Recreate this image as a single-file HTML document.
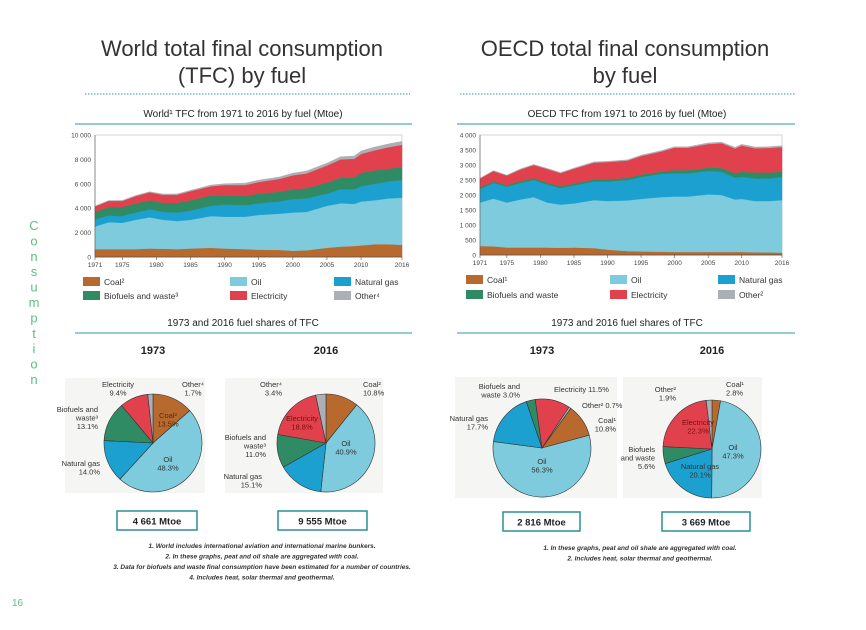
<!DOCTYPE html>
<html><head><meta charset="utf-8">
<style>
body{margin:0;background:#fff;}
#root{position:relative;width:866px;height:630px;overflow:hidden;font-family:"Liberation Sans",sans-serif;}
svg{position:absolute;left:0;top:0;}
</style></head>
<body>
<div id="root">
<svg id="svg" width="866" height="630" viewBox="0 0 866 630" font-family="Liberation Sans, sans-serif"></svg>
</div>
<script>
// ---------- data ----------
const years = [1971,1973,1975,1977,1979,1981,1983,1985,1988,1990,1993,1995,1998,2000,2002,2005,2007,2009,2010,2012,2014,2016];
const worldCoal  = [650,650,650,650,700,680,650,700,750,700,650,600,580,520,550,750,850,900,950,1050,1050,1000];
const worldOil   = [1850,2200,2150,2400,2550,2370,2300,2350,2600,2600,2650,2850,2970,3130,3150,3450,3550,3450,3600,3600,3750,3850];
const worldGas   = [600,550,550,600,650,650,700,750,850,1000,950,950,1000,1100,1100,1000,1150,1200,1250,1350,1400,1450];
const worldBio   = [600,700,750,750,750,750,800,850,850,750,750,800,800,800,850,900,950,950,1100,1100,1050,1050];
const worldElec  = [450,500,500,600,650,650,650,750,750,850,900,950,1050,1150,1200,1400,1500,1550,1550,1650,1750,1850];
const worldOther = [30,30,40,50,50,60,70,70,100,110,160,150,160,180,200,200,220,230,250,270,270,280];
const oecdCoal  = [300,290,250,250,250,250,240,250,230,180,130,120,110,100,100,100,100,100,100,90,85,80];
const oecdOil   = [1450,1590,1500,1600,1680,1500,1440,1470,1600,1620,1690,1750,1820,1850,1850,1920,1900,1750,1770,1710,1715,1750];
const oecdGas   = [450,520,530,550,570,600,550,600,620,650,680,730,770,770,770,780,770,730,730,750,750,770];
const oecdBio   = [60,50,50,60,60,60,60,60,70,70,70,80,80,110,110,110,130,150,180,200,200,180];
const oecdElec  = [290,350,320,390,440,460,440,500,560,580,580,620,670,750,750,790,830,820,870,810,820,820];
const oecdOther = [15,15,15,20,20,20,20,20,25,25,25,30,30,30,30,35,35,40,40,40,40,45];
const xTickLabels = ["1971","1975","1980","1985","1990","1995","2000","2005","2010","2016"];
const worldYTicks = [0,2000,4000,6000,8000,10000];
const worldYTickLabels = ["0","2 000","4 000","6 000","8 000","10 000"];
const oecdYTicks = [0,500,1000,1500,2000,2500,3000,3500,4000];
const oecdYTickLabels = ["0","500","1 000","1 500","2 000","2 500","3 000","3 500","4 000"];
const pieWorld1973 = [13.5,48.3,14.0,13.1,9.4,1.7];
const pieWorld2016 = [10.8,40.9,15.1,11.0,18.8,3.4];
const pieOecd1973  = [10.8,56.3,17.7,3.0,11.5,0.7];
const pieOecd2016  = [2.8,47.3,20.1,5.6,22.3,1.9];
const fuelNames = ["coal","oil","natural-gas","biofuels","electricity","other"];
const colors = ["#b8692e","#7dcbdd","#1ca0d0","#2e8b64","#e1414c","#aab0b6"];

const S = document.getElementById('svg');
const NS = "http://www.w3.org/2000/svg";
function el(tag, attrs, parent){const e=document.createElementNS(NS,tag);for(const k in attrs)e.setAttribute(k,attrs[k]);(parent||S).appendChild(e);return e;}
function txt(x,y,s,size,opts,parent){const t=el('text',Object.assign({x:x,y:y,'font-size':size,fill:'#222'},opts||{}),parent);t.textContent=s;return t;}

// ---------- static text ----------
function titleBlock(cx,lines,name){
  lines.forEach((l,i)=>{const t=txt(cx,56+i*27,l,22,{'text-anchor':'middle',fill:'#333'});});
}
titleBlock(242,["World total final consumption","(TFC) by fuel"],'world-title');
titleBlock(625,["OECD total final consumption","by fuel"],'oecd-title');
let dl=el('line',{x1:85,y1:94,x2:410,y2:94,stroke:'#2a9aa0','stroke-dasharray':'1.5,1.5'});
dl=el('line',{x1:460,y1:94,x2:795,y2:94,stroke:'#2a9aa0','stroke-dasharray':'1.5,1.5'});

function subtitle(cx,y,s,x1,x2,name){
  const t=txt(cx,y,s,10,{'text-anchor':'middle'});
  const l=el('line',{x1:x1,y1:y+7,x2:x2,y2:y+7,stroke:'#2a9aa0','stroke-width':1});
}
subtitle(243,117,"World¹ TFC from 1971 to 2016 by fuel (Mtoe)",75,412,'world-area-subtitle');
subtitle(627,117,"OECD TFC from 1971 to 2016 by fuel (Mtoe)",457,795,'oecd-area-subtitle');
subtitle(243,326,"1973 and 2016 fuel shares of TFC",75,412,'world-pie-subtitle');
subtitle(627,326,"1973 and 2016 fuel shares of TFC",457,795,'oecd-pie-subtitle');

// side label
const side="Consumption".split("");
side.forEach((c,i)=>{const t=txt(34,230+i*15.4,c,13,{'text-anchor':'middle',fill:'#5cc080'});});
let pn=txt(12,606,"16",10,{fill:'#5cc080'});

// ---------- area charts ----------
function areaChart(cfg){
  const g=el('g',{});
  const xs=y=>cfg.x0+(y-1971)/(2016-1971)*(cfg.x1-cfg.x0);
  const ys=v=>cfg.y0-v/cfg.ymax*(cfg.y0-cfg.yTop);
  const fr=el('rect',{x:cfg.x0,y:cfg.yTop,width:cfg.x1-cfg.x0,height:cfg.y0-cfg.yTop,fill:'#fff',stroke:'#ccc','stroke-width':0.8},g);
  
  const base=years.map(()=>0);
  cfg.series.forEach((ser,si)=>{
    const top=base.map((b,i)=>b+ser[i]);
    let d='M'+years.map((y,i)=>xs(y).toFixed(1)+','+ys(top[i]).toFixed(1)).join('L');
    for(let i=years.length-1;i>=0;i--) d+='L'+xs(years[i]).toFixed(1)+','+ys(base[i]).toFixed(1);
    const p=el('path',{d:d+'Z',fill:colors[si],stroke:colors[si],'stroke-width':0.4},g);
    
    
    top.forEach((v,i)=>base[i]=v);
  });
  el('line',{x1:cfg.x0,y1:cfg.y0,x2:cfg.x1,y2:cfg.y0,stroke:'#555','stroke-width':0.8},g);
  el('line',{x1:cfg.x0,y1:cfg.y0,x2:cfg.x0,y2:cfg.yTop,stroke:'#555','stroke-width':0.6},g);
  cfg.yTicks.forEach((v,i)=>{
    const t=txt(cfg.x0-4,ys(v)+2.5,cfg.yLabels[i],6.5,{'text-anchor':'end',fill:'#444'},g);
    
  });
  xTickLabels.forEach(s=>{
    const x=xs(+s);
    el('line',{x1:x,y1:cfg.y0,x2:x,y2:cfg.y0+3,stroke:'#555','stroke-width':0.6},g);
    const t=txt(x,cfg.y0+10,s,6.5,{'text-anchor':'middle',fill:'#444'},g);
    
  });
  cfg.legend.forEach(l=>{
    const r=el('rect',{x:l[0],y:l[1],width:17,height:9,fill:colors[l[3]]},g);
    
    const t=txt(l[0]+21,l[1]+8,l[2],8.5,{fill:'#333'},g);
    
  });
}
areaChart({name:'world-area-chart',x0:95,x1:402,y0:257,yTop:135,ymax:10000,
  series:[worldCoal,worldOil,worldGas,worldBio,worldElec,worldOther],yTicks:worldYTicks,yLabels:worldYTickLabels,
  legend:[[83,277,"Coal²",0],[83,291,"Biofuels and waste³",3],[230,277,"Oil",1],[230,291,"Electricity",4],[334,277,"Natural gas",2],[334,291,"Other⁴",5]]});
areaChart({name:'oecd-area-chart',x0:480,x1:782,y0:255,yTop:135,ymax:4000,
  series:[oecdCoal,oecdOil,oecdGas,oecdBio,oecdElec,oecdOther],yTicks:oecdYTicks,yLabels:oecdYTickLabels,
  legend:[[466,275,"Coal¹",0],[466,290,"Biofuels and waste",3],[610,275,"Oil",1],[610,290,"Electricity",4],[718,275,"Natural gas",2],[718,290,"Other²",5]]});

// ---------- pies ----------
function pie(cfg){
  const g=el('g',{});
  const bg=el('rect',{x:cfg.panel[0],y:cfg.panel[1],width:cfg.panel[2],height:cfg.panel[3],fill:'#f5f6f4'},g);
  
  const yr=txt(cfg.cx,cfg.yearY,cfg.year,11,{'text-anchor':'middle','font-weight':'bold',fill:'#222'},g);
  
  const tot=cfg.values.reduce((a,b)=>a+b,0);
  let a=cfg.start*Math.PI/180;
  cfg.values.forEach((v,i)=>{
    const a2=a+v/tot*2*Math.PI;
    const p1=[cfg.cx+cfg.r*Math.sin(a),cfg.cy-cfg.r*Math.cos(a)];
    const p2=[cfg.cx+cfg.r*Math.sin(a2),cfg.cy-cfg.r*Math.cos(a2)];
    const large=(a2-a)>Math.PI?1:0;
    const p=el('path',{d:`M${cfg.cx},${cfg.cy}L${p1[0].toFixed(2)},${p1[1].toFixed(2)}A${cfg.r},${cfg.r} 0 ${large} 1 ${p2[0].toFixed(2)},${p2[1].toFixed(2)}Z`,fill:colors[i],stroke:'#333','stroke-width':0.6},g);
    
    
    a=a2;
  });
  cfg.labels.forEach(l=>{
    const lines=l[2].split('|');
    lines.forEach((s,k)=>{
      const t=txt(l[0],l[1]+k*8.5,s,7.5,{'text-anchor':l[3]||'middle',fill:l[4]||'#333'},g);
      
    });
  });
  const bx=el('rect',{x:cfg.box[0],y:cfg.box[1],width:cfg.box[2],height:19,fill:'#fff',stroke:'#2a8f95','stroke-width':1.5},g);
  
  const bt=txt(cfg.box[0]+cfg.box[2]/2,cfg.box[1]+13.5,cfg.total,9.5,{'text-anchor':'middle','font-weight':'bold',fill:'#222'},g);
  
}
pie({name:'world-pie-1973',year:'1973',yearY:354,cx:153,cy:443,r:49,start:0,values:pieWorld1973,panel:[65,378,140,115],box:[117,511,80],total:'4 661 Mtoe',
  labels:[[168,418,'Coal²|13.5%','middle','#5a2a0a'],[168,462,'Oil|48.3%'],[118,387,'Electricity|9.4%'],[193,387,'Other⁴|1.7%'],[98,412,'Biofuels and|waste³|13.1%','end'],[100,466,'Natural gas|14.0%','end']]});
pie({name:'world-pie-2016',year:'2016',yearY:354,cx:326,cy:443,r:49,start:0,values:pieWorld2016,panel:[225,378,158,115],box:[278,511,89],total:'9 555 Mtoe',
  labels:[[302,421,'Electricity|18.8%','middle','#7a1010'],[346,446,'Oil|40.9%'],[282,387,'Other⁴|3.4%','end'],[363,387,'Coal²|10.8%','start'],[266,440,'Biofuels and|waste³|11.0%','end'],[262,479,'Natural gas|15.1%','end']]});
pie({name:'oecd-pie-1973',year:'1973',yearY:354,cx:542,cy:448,r:49,start:36,values:pieOecd1973,panel:[455,377,162,121],box:[503,512,77],total:'2 816 Mtoe',
  labels:[[542,464,'Oil|56.3%'],[520,389,'Biofuels and|waste 3.0%','end'],[554,392,'Electricity 11.5%','start'],[582,408,'Other² 0.7%','start'],[616,423,'Coal¹|10.8%','end'],[488,421,'Natural gas|17.7%','end']]});
pie({name:'oecd-pie-2016',year:'2016',yearY:354,cx:712,cy:449,r:49,start:0,values:pieOecd2016,panel:[623,377,139,121],box:[662,512,88],total:'3 669 Mtoe',
  labels:[[698,425,'Electricity|22.3%','middle','#7a1010'],[733,450,'Oil|47.3%'],[700,469,'Natural gas|20.1%'],[676,392,'Other²|1.9%','end'],[726,387,'Coal¹|2.8%','start'],[655,452,'Biofuels|and waste|5.6%','end']]});

// ---------- footnotes ----------
const fnW=["1. World includes international aviation and international marine bunkers.","2. In these graphs, peat and oil shale are aggregated with coal.","3. Data for biofuels and waste final consumption have been estimated for a number of countries.","4. Includes heat, solar thermal and geothermal."];
fnW.forEach((s,i)=>{const t=txt(262,548+i*10.5,s,6.5,{'text-anchor':'middle','font-style':'italic','font-weight':'bold',fill:'#333'});});
const fnO=["1. In these graphs, peat and oil shale are aggregated with coal.","2. Includes heat, solar thermal and geothermal."];
fnO.forEach((s,i)=>{const t=txt(640,550+i*10.5,s,6.5,{'text-anchor':'middle','font-style':'italic','font-weight':'bold',fill:'#333'});});
</script>
</body></html>
